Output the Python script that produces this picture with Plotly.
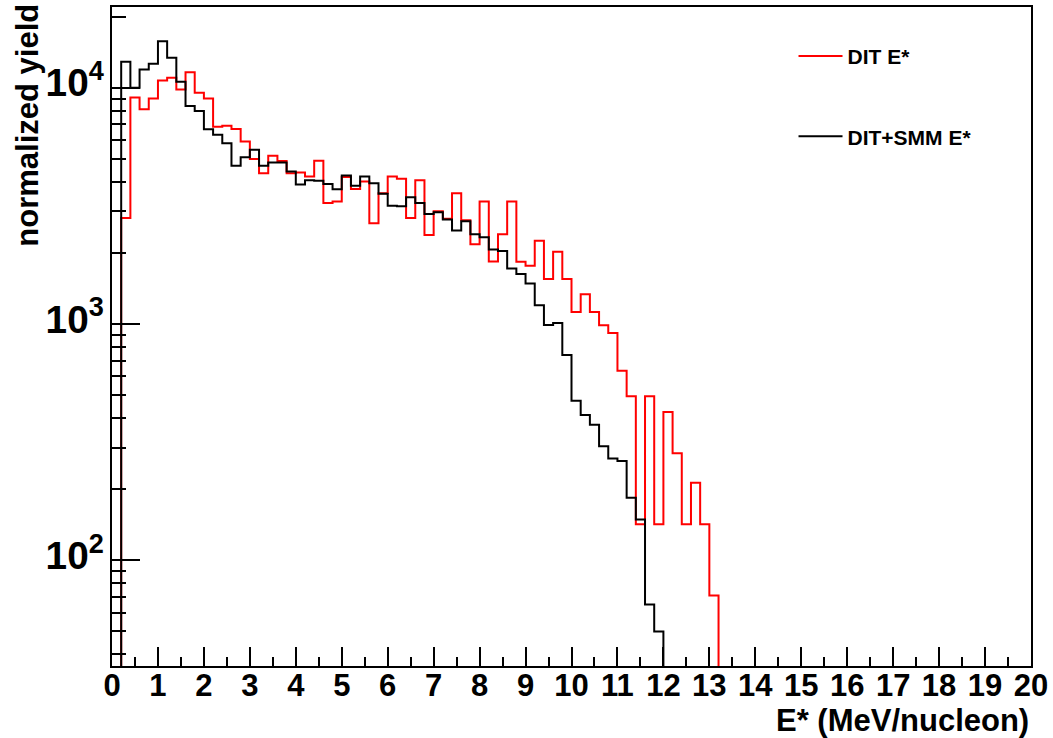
import numpy as np
import plotly.graph_objects as go

# Histogram binning: 100 bins of 0.2 MeV/nucleon from 0 to 20
bin_edges = np.round(np.linspace(0.0, 20.0, 101), 3)

# DIT E* (red) - yield per bin, bins 0..65, remaining bins empty
dit_yield = [
    0, 2810, 9100, 8110, 9010, 10740, 11020, 9840, 11640, 9530,
    9010, 6840, 6910, 6690, 5920, 5000, 4350, 5160, 4900, 4350,
    4380, 4210, 4910, 3250, 3300, 4190, 3730, 4010, 2670, 3580,
    4210, 4120, 2810, 4060, 2380, 3000, 2790, 3580, 2750, 2175,
    3300, 1840, 2400, 3300, 1835, 1765, 2250, 1550, 2025, 1550,
    1125, 1337, 1125, 988, 917, 634, 495, 142, 495, 142,
    424, 284, 142, 213, 142, 71,
] + [0] * 34

# DIT+SMM E* (black)
smm_yield = [
    0, 12900, 10000, 11950, 12630, 15740, 13390, 10600, 8370, 7980,
    6670, 6320, 5820, 4680, 5080, 5460, 4680, 4830, 4830, 4420,
    3900, 4060, 4040, 3910, 3720, 4250, 3850, 4210, 3940, 3560,
    3170, 3150, 3440, 3250, 2920, 2970, 2770, 2490, 2720, 2400,
    2330, 2070, 2040, 1720, 1630, 1485, 1200, 990, 1010, 740,
    473, 412, 375, 304, 270, 263, 184, 149, 65, 50,
] + [0] * 40

series = [
    ("DIT E*", dit_yield, "#ff0000"),
    ("DIT+SMM E*", smm_yield, "#000000"),
]

FONT = "Liberation Sans, Arial, Helvetica, sans-serif"
BIG = 31


def step_outline(edges, counts):
    """Outline of a histogram as hv-step points; empty bins drop below the log axis."""
    y = np.asarray(counts, dtype=float)
    y = np.where(y > 0, y, 1e-3)
    xs = list(edges[:-1]) + [edges[-1]]
    ys = list(y) + [y[-1]]
    return xs, ys


fig = go.Figure()
for i, (name, counts, color) in enumerate(series):
    xs, ys = step_outline(bin_edges, counts)
    fig.add_trace(go.Scatter(
        x=xs, y=ys, mode="lines", name=name,
        line=dict(color=color, width=2, shape="hv"),
        legendgroup=f"g{i}",
        hoverinfo="skip",
    ))

W, H = 1053, 738
L, R, T, B = 112, 20, 5, 72
plot_w = W - L - R
plot_h = H - T - B

fig.update_layout(
    width=W, height=H,
    margin=dict(l=L, r=R, t=T, b=B, pad=0),
    paper_bgcolor="white", plot_bgcolor="white",
    font=dict(family=FONT, color="black"),
    showlegend=True,
    legend=dict(
        x=(795 - L) / plot_w, y=(H - B - 34) / plot_h,
        xanchor="left", yanchor="top",
        font=dict(family=FONT, size=21, weight="bold", color="black"),
        bgcolor="rgba(0,0,0,0)", borderwidth=0,
        tracegroupgap=50, itemwidth=44,
    ),
    xaxis=dict(
        range=[0, 20], dtick=1, tick0=0,
        showline=True, linecolor="black", linewidth=2, mirror=True,
        ticks="inside", ticklen=19, tickwidth=1.5, tickcolor="black",
        minor=dict(ticks="inside", ticklen=9, tickwidth=1.5, tickcolor="black", dtick=0.5, showgrid=False),
        showgrid=False, zeroline=False,
        ticklabelstandoff=-9,
        tickfont=dict(family=FONT, size=BIG, weight="bold", color="black"),
    ),
    yaxis=dict(
        type="log", range=[1.5527, 4.3418], dtick=1,
        exponentformat="power",
        showline=True, linecolor="black", linewidth=2, mirror=True,
        ticks="inside", ticklen=28, tickwidth=1.5, tickcolor="black",
        minor=dict(ticks="inside", ticklen=14, tickwidth=1.5, tickcolor="black", dtick="D1", showgrid=False),
        showgrid=False, zeroline=False,
        ticklabelshift=-5,
        tickfont=dict(family=FONT, size=BIG, weight="bold", color="black"),
    ),
)

fig.add_annotation(
    text="E* (MeV/nucleon)", xref="paper", yref="paper",
    x=1.0, y=-(721 - (H - B)) / plot_h, xanchor="right", yanchor="middle",
    showarrow=False, font=dict(family=FONT, size=BIG, weight="bold", color="black"),
)
fig.add_annotation(
    text="normalized yield", xref="paper", yref="paper",
    x=(27 - L) / plot_w, y=1.0 + 5 / plot_h, xanchor="center", yanchor="top",
    textangle=-90, showarrow=False,
    font=dict(family=FONT, size=BIG, weight="bold", color="black"),
)

fig.write_html("out.html")
